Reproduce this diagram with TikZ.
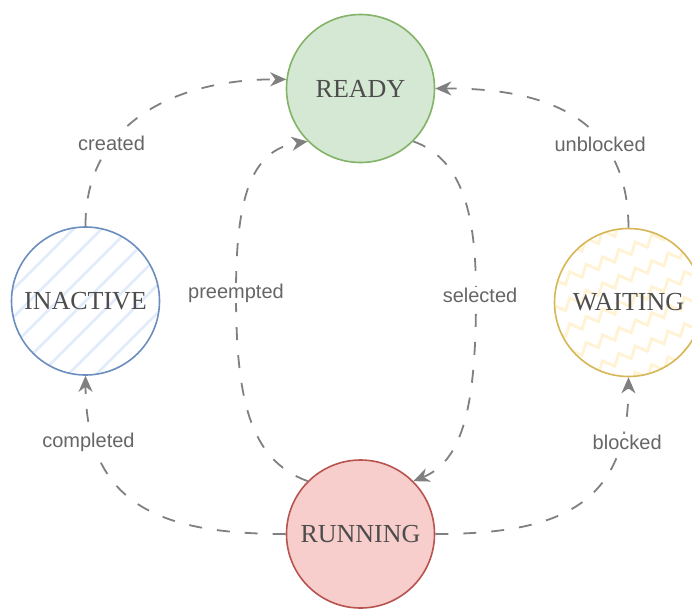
\documentclass[tikz,border=0pt]{standalone}
\usepackage{fontspec}
\setmainfont{Liberation Serif}
\newfontfamily\lblfont{Liberation Sans}
\usetikzlibrary{arrows.meta,backgrounds,decorations.pathmorphing,calc}
\definecolor{edgegray}{HTML}{808080}
\definecolor{lblgray}{HTML}{666666}
\definecolor{txtgray}{HTML}{4D4D4D}
\definecolor{gfill}{HTML}{D5E8D4}\definecolor{gline}{HTML}{82B366}
\definecolor{rfill}{HTML}{F8CECC}\definecolor{rline}{HTML}{B85450}
\definecolor{bfill}{HTML}{E2ECFB}\definecolor{bline}{HTML}{6C8EBF}
\definecolor{yfill}{HTML}{FFF3D4}\definecolor{yline}{HTML}{D6B656}
\tikzset{
  state/.style={circle, minimum size=148pt, inner sep=0pt, line width=1.6pt,
    text=txtgray, font=\fontsize{26}{30}\selectfont},
  edge/.style={draw=edgegray, line width=1.8pt, dash pattern=on 13pt off 15pt,
    -{Stealth[length=16pt,width=14pt,inset=5pt]}},
  lbl/.style={fill=white, inner sep=1pt, text=lblgray, font=\lblfont\fontsize{20}{24}\selectfont}
}
\begin{document}
\begin{tikzpicture}[x=1pt,y=-1pt]
\clip (0,0) rectangle (692,608);
\node[state, draw=gline, fill=gfill] (rdy) at (360.5,88.5) {READY};
\node[state, draw=bline] (ina) at (85.5,301) {INACTIVE};
\node[state, draw=yline] (wai) at (628.5,302.5) {WAITING};
\node[state, draw=rline, fill=rfill] (run) at (360.5,534) {RUNNING};
\begin{pgfonlayer}{background}
  \fill[white] (0,0) rectangle (692,608);
  \begin{scope}
    \clip (ina.center) circle (74);
    \foreach \i in {-9,...,9}
      \draw[bfill, line width=2.5pt] ($(ina.center)+(\i*28-100,100)$) -- ++(200,-200);
  \end{scope}
  \begin{scope}
    \clip (wai.center) circle (74);
    \foreach \i in {-7,...,7}
      \draw[yfill, line width=2.8pt, decorate, decoration={zigzag, segment length=18pt, amplitude=5pt}]
        ($(wai.center)+(-110,\i*26+50)$) -- ++(220,-100);
  \end{scope}
\end{pgfonlayer}
\draw[edge] (ina.north) .. controls (85,120) and (180,79) .. node[lbl, pos=0.32] {created} (rdy.173);
\draw[edge] (wai.north) .. controls (628,120) and (550,88) .. node[lbl, pos=0.33, xshift=-4pt] {unblocked} (rdy.east);
\draw[edge] (rdy.315) .. controls (465,160) and (476,220) .. (476,295) node[lbl, xshift=4pt] {selected}
   .. controls (476,400) and (465,460) .. (run.45);
\draw[edge] (run.135) .. controls (250,460) and (236,400) .. (236,293) node[lbl] {preempted}
   .. controls (236,200) and (250,150) .. (rdy.225);
\draw[edge] (run.west) .. controls (160,534) and (86,505) .. node[lbl, pos=0.8, xshift=-6pt] {completed} (ina.south);
\draw[edge] (run.east) .. controls (560,534) and (628,505) .. node[lbl, pos=0.8, xshift=7pt] {blocked} (wai.south);
\end{tikzpicture}
\end{document}
